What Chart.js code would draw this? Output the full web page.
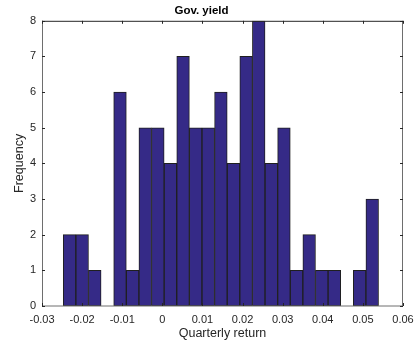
<!DOCTYPE html>
<html>
<head>
<meta charset="utf-8">
<script src="https://cdn.jsdelivr.net/npm/chart.js@4.4.1/dist/chart.umd.min.js"></script>
<style>
  html, body { margin: 0; padding: 0; background: #fff; }
  #wrap { width: 414px; height: 347px; }
</style>
</head>
<body>
<div id="wrap"><canvas id="histChart" width="414" height="347"></canvas></div>
<script>
// histogram bins (quarterly return)
const binStart = -0.0247;
const binWidth = 0.003144;
const counts = [2, 2, 1, 0, 6, 1, 5, 5, 4, 7, 5, 5, 6, 4, 7, 8, 4, 5, 1, 2, 1, 1, 0, 1, 3];
const xTicks = [-0.03, -0.02, -0.01, 0, 0.01, 0.02, 0.03, 0.04, 0.05, 0.06];
const yTicks = [0, 1, 2, 3, 4, 5, 6, 7, 8];

const barData = counts.map((c, i) => ({ x: binStart + binWidth * (i + 0.5), y: c }));

const FONT = 'Liberation Sans, Arial, sans-serif';

// box around the axes + inward tick marks (matlab style)
const axesBox = {
    id: 'axesBox',
    afterDraw(chart) {
        const { ctx, chartArea: a, scales } = chart;
        ctx.save();
        ctx.lineWidth = 1;
        ctx.strokeStyle = '#262626';
        ctx.beginPath();
        ctx.moveTo(a.left, a.top + 0.5);
        ctx.lineTo(a.right, a.top + 0.5);
        ctx.stroke();
        ctx.strokeStyle = '#6e6e6e';
        ctx.beginPath();
        ctx.moveTo(a.left + 0.5, a.top);
        ctx.lineTo(a.left + 0.5, a.bottom);
        ctx.lineTo(a.right - 0.5, a.bottom);
        ctx.lineTo(a.right - 0.5, a.top);
        ctx.stroke();
        ctx.strokeStyle = '#262626';
        ctx.beginPath();
        xTicks.forEach(v => {
            const px = Math.round(scales.x.getPixelForValue(v)) + 0.5;
            ctx.moveTo(px, a.bottom); ctx.lineTo(px, a.bottom - 3);
            ctx.moveTo(px, a.top); ctx.lineTo(px, a.top + 3);
        });
        yTicks.forEach(v => {
            const py = Math.round(scales.y.getPixelForValue(v)) + 0.5;
            ctx.moveTo(a.left, py); ctx.lineTo(a.left + 3, py);
            ctx.moveTo(a.right, py); ctx.lineTo(a.right - 3, py);
        });
        ctx.stroke();
        ctx.restore();
    }
};

new Chart(document.getElementById('histChart'), {
    type: 'bar',
    data: {
        datasets: [{
            data: barData,
            backgroundColor: '#352a87',
            borderColor: '#1f1f1f',
            borderWidth: 1,
            barPercentage: 1,
            categoryPercentage: 1,
            borderSkipped: false
        }]
    },
    options: {
        responsive: false,
        animation: false,
        layout: { padding: { top: 0, right: 11, left: 0, bottom: 0 } },
        plugins: {
            legend: { display: false },
            tooltip: { enabled: false },
            title: {
                display: true,
                text: 'Gov. yield',
                color: '#000',
                font: { family: FONT, size: 11.5, weight: 'bold' },
                padding: { top: 4, bottom: 3 }
            }
        },
        scales: {
            x: {
                type: 'linear',
                min: -0.03,
                max: 0.06,
                offset: false,
                afterBuildTicks: s => { s.ticks = xTicks.map(v => ({ value: v })); },
                afterFit: s => { s.height = 41; s.paddingLeft = 0; s.paddingRight = 0; },
                grid: { display: false, drawTicks: false },
                border: { display: false },
                ticks: {
                    color: '#262626',
                    font: { family: FONT, size: 11 },
                    padding: 7,
                    maxRotation: 0,
                    callback: v => String(Math.round(v * 100) / 100)
                },
                title: {
                    display: true,
                    text: 'Quarterly return',
                    color: '#262626',
                    font: { family: FONT, size: 12.5 },
                    padding: { top: 0, bottom: 6 }
                }
            },
            y: {
                min: 0,
                max: 8,
                afterBuildTicks: s => { s.ticks = yTicks.map(v => ({ value: v })); },
                afterFit: s => { s.width = 42; s.paddingTop = 0; s.paddingBottom = 0; },
                grid: { display: false, drawTicks: false },
                border: { display: false },
                ticks: {
                    color: '#262626',
                    font: { family: FONT, size: 11 },
                    padding: 6
                },
                title: {
                    display: true,
                    text: 'Frequency',
                    color: '#262626',
                    font: { family: FONT, size: 12.5 },
                    padding: { top: 12, bottom: 0 }
                }
            }
        }
    },
    plugins: [axesBox]
});
</script>
</body>
</html>
